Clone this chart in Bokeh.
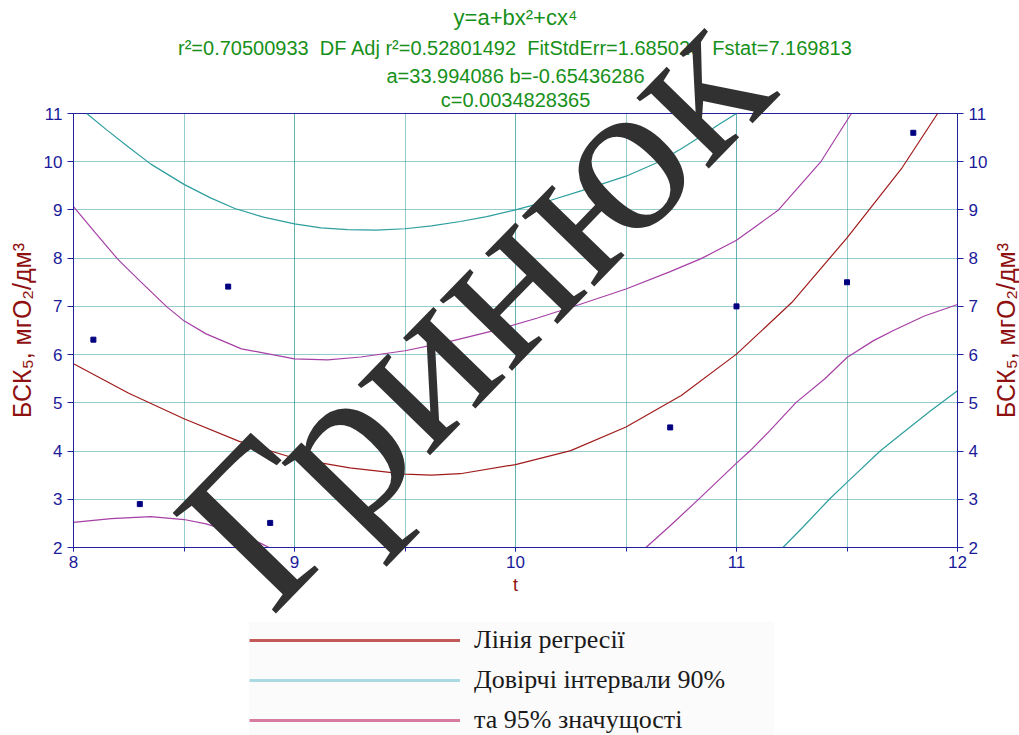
import math
from bokeh.plotting import figure
from bokeh.models import (Range1d, LinearAxis, Legend, LegendItem, Label,
                          SingleIntervalTicker, GridBox)
from bokeh.embed import file_html
from bokeh.resources import INLINE

# ---------------- data ----------------
pt_x = [8.09, 8.30, 8.70, 8.89, 10.70, 11.00, 11.50, 11.80]
pt_y = [6.31, 2.90, 7.41, 2.51, 4.49, 7.00, 7.50, 10.60]

reg_x = [8.0, 8.25, 8.5, 8.75, 9.0, 9.25, 9.5, 9.62, 9.75, 10.0, 10.25, 10.5,
         10.75, 11.0, 11.25, 11.5, 11.75, 11.91]
reg_y = [5.81, 5.20, 4.67, 4.20, 3.85, 3.65, 3.52, 3.50, 3.53, 3.72, 4.01, 4.50,
         5.15, 6.01, 7.08, 8.42, 9.88, 11.0]

pu_x = [8.0, 8.1, 8.2, 8.3, 8.42, 8.5, 8.6, 8.76, 9.0, 9.15, 9.3, 9.5, 9.7,
        9.93, 10.1, 10.29, 10.5, 10.7, 10.84, 11.0, 11.19, 11.38, 11.52]
pu_y = [9.07, 8.52, 7.98, 7.53, 7.0, 6.70, 6.43, 6.12, 5.91, 5.89, 5.95, 6.08,
        6.27, 6.53, 6.76, 7.04, 7.36, 7.72, 7.99, 8.37, 9.0, 9.99, 11.0]
pl1_x = [8.0, 8.17, 8.35, 8.5, 8.6, 8.73, 8.85, 8.95]
pl1_y = [2.52, 2.60, 2.64, 2.58, 2.49, 2.31, 2.08, 1.85]
pl2_x = [10.55, 10.59, 10.7, 10.84, 11.0, 11.06, 11.15, 11.27, 11.4, 11.5,
         11.62, 11.71, 11.85, 12.0]
pl2_y = [1.85, 2.0, 2.45, 3.05, 3.75, 4.0, 4.42, 5.01, 5.5, 5.94,
         6.29, 6.5, 6.8, 7.04]

tu_x = [8.06, 8.15, 8.25, 8.35, 8.5, 8.62, 8.73, 8.86, 9.0, 9.12, 9.24, 9.37,
        9.5, 9.62, 9.75, 9.87, 10.0, 10.16, 10.3, 10.5, 10.65, 10.75, 10.84,
        10.92, 11.0]
tu_y = [11.0, 10.66, 10.3, 9.95, 9.53, 9.25, 9.03, 8.85, 8.71, 8.63, 8.59, 8.58,
        8.61, 8.67, 8.76, 8.86, 9.0, 9.2, 9.4, 9.7, 10.0, 10.27, 10.53,
        10.77, 11.0]
tl_x = [11.21, 11.3, 11.42, 11.5, 11.65, 11.75, 11.88, 12.0]
tl_y = [2.0, 2.42, 3.0, 3.35, 4.0, 4.37, 4.84, 5.25]

NB = "\u00a0"
title_lines = ["y=a+bx²+cx⁴",
               "r²=0.70500933" + NB + " DF Adj r²=0.52801492" + NB +
               " FitStdErr=1.685026" + NB + " Fstat=7.169813",
               "a=33.994086 b=-0.65436286",
               "c=0.0034828365"]
y_label = "БСК₅, мгО₂/дм³"
x_label = "t"
legend_labels = ["Лінія регресії", "Довірчі інтервали 90%", "та 95% значущості"]
watermark = "Гринюк"

# ---------------- styling ----------------
NAVY = "#22229e"
TICK_TXT = "#1a1a9a"
GRID = "#2e9898"
RED = "#a01c1c"
PURPLE = "#a640a6"
TEAL = "#2e9e9e"
LABEL_RED = "#8e1010"
GREEN = "#17901a"

W, H = 1019, 735

# ---------------- main chart ----------------
p = figure(width=W, height=H, x_range=Range1d(8, 12), y_range=Range1d(2, 11),
           output_backend="svg", toolbar_location=None,
           min_border_left=73, min_border_right=62,
           min_border_top=113, min_border_bottom=188)
p.background_fill_color = "white"
p.border_fill_color = "white"
p.outline_line_color = NAVY
p.outline_line_width = 1

right_axis = LinearAxis()
p.add_layout(right_axis, "right")

p.xaxis.ticker = SingleIntervalTicker(interval=1, num_minor_ticks=2)
for ax in p.yaxis:
    ax.ticker = SingleIntervalTicker(interval=1, num_minor_ticks=0)

for ax in list(p.xaxis) + list(p.yaxis):
    ax.axis_line_color = NAVY
    ax.major_tick_line_color = NAVY
    ax.minor_tick_line_color = NAVY
    ax.major_tick_in = 0
    ax.minor_tick_in = 0
    ax.major_label_text_color = TICK_TXT
    ax.major_label_text_font = "Liberation Sans"
    ax.major_label_text_font_size = "17px"
for ax in p.yaxis:
    ax.major_tick_out = 6
    ax.minor_tick_out = 0
    ax.major_label_standoff = 5

left_axis = p.yaxis[0]
left_axis.axis_label = y_label
left_axis.axis_label_text_color = LABEL_RED
left_axis.axis_label_text_font = "Liberation Sans"
left_axis.axis_label_text_font_style = "normal"
left_axis.axis_label_text_font_size = "25px"
left_axis.axis_label_standoff = 5

p.xaxis.major_tick_out = 4
p.xaxis.minor_tick_out = 4
p.xaxis.major_label_standoff = 4
p.xaxis.axis_label = x_label
p.xaxis.axis_label_text_color = LABEL_RED
p.xaxis.axis_label_text_font = "Liberation Sans"
p.xaxis.axis_label_text_font_style = "normal"
p.xaxis.axis_label_text_font_size = "18px"
p.xaxis.axis_label_standoff = 4

p.xgrid.grid_line_color = GRID
p.xgrid.grid_line_dash = "1 1"
p.xgrid.minor_grid_line_color = GRID
p.xgrid.minor_grid_line_dash = "1 1"
p.ygrid.grid_line_color = GRID
p.ygrid.grid_line_dash = "1 1"

p.line(tu_x, tu_y, line_color=TEAL, line_width=1.2)
p.line(tl_x, tl_y, line_color=TEAL, line_width=1.2)
p.line(pu_x, pu_y, line_color=PURPLE, line_width=1.2)
p.line(pl1_x, pl1_y, line_color=PURPLE, line_width=1.2)
p.line(pl2_x, pl2_y, line_color=PURPLE, line_width=1.2)
p.line(reg_x, reg_y, line_color=RED, line_width=1.2)
p.scatter(pt_x, pt_y, marker="square", size=5, fill_color="#000080",
          line_color="#000080")

# ---------------- transparent overlay (pixel coordinates) ----------------
q = figure(width=W, height=H, x_range=Range1d(0, W), y_range=Range1d(H, 0),
           output_backend="svg", toolbar_location=None,
           x_axis_location=None, y_axis_location=None,
           min_border=0)
q.grid.visible = False
q.outline_line_color = None
q.background_fill_color = None
q.border_fill_color = None

for fig in (p, q):
    if "frame_align" in fig.properties():
        fig.frame_align = False

title_y = [17, 47, 75, 99]
title_sizes = ["22px", "20px", "20px", "20px"]
for txt, ty, sz in zip(title_lines, title_y, title_sizes):
    q.add_layout(Label(x=515, y=ty, text=txt, text_align="center",
                       text_baseline="middle", text_color=GREEN,
                       text_font="Liberation Sans", text_font_size=sz))

q.add_layout(Label(x=1005, y=330, text=y_label, angle=math.pi / 2,
                   text_align="center", text_baseline="middle",
                   text_color=LABEL_RED, text_font="Liberation Sans",
                   text_font_size="25px"))

# legend: sample-line renderers hold no visible points
NAN = float("nan")
leg_colors = ["#c25a5a", "#abdbe2", "#d87ba0"]
items = []
for lab, col in zip(legend_labels, leg_colors):
    r = q.line([NAN, NAN], [NAN, NAN], line_color=col, line_width=3)
    items.append(LegendItem(label=lab, renderers=[r]))
legend = Legend(items=items, location=(249, -3), orientation="vertical",
                glyph_width=211, glyph_height=36, label_height=36,
                label_standoff=14, spacing=4, padding=18, margin=0,
                label_width=300,
                background_fill_color="#fbfbfb", background_fill_alpha=1.0,
                border_line_color=None,
                label_text_font="Liberation Serif",
                label_text_font_size="26px", label_text_color="#1a1a1a")
q.add_layout(legend)

q.add_layout(Label(x=218, y=566, text=watermark, angle=math.radians(45.8),
                   text_align="left", text_baseline="alphabetic",
                   text_color="#313131", text_font="Liberation Serif",
                   text_font_size="220px"))

layout = GridBox(children=[(p, 0, 0), (q, 0, 0)])

open("out.html", "w").write(file_html(layout, INLINE))
